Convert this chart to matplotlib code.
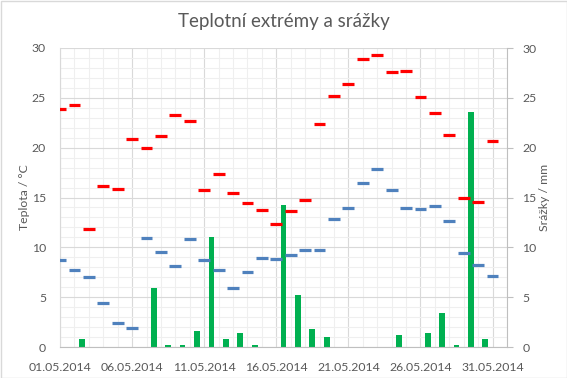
import matplotlib.pyplot as plt
from matplotlib.patches import Rectangle
from matplotlib.ticker import MultipleLocator, FixedLocator

plt.rcParams['font.family'] = ['Lato', 'DejaVu Sans']

# May 2014, one value per day
days = list(range(1, 32))
tmax = [23.9, 24.3, 11.8, 16.2, 15.9, 20.9, 20.0, 21.2, 23.3, 22.7,
        15.8, 17.4, 15.5, 14.4, 13.7, 12.3, 13.6, 14.7, 22.4, 25.2,
        26.4, 28.9, 29.3, 27.6, 27.7, 25.1, 23.5, 21.3, 15.0, 14.5, 20.7]
tmin = [8.7, 7.7, 7.0, 4.4, 2.4, 1.9, 10.9, 9.5, 8.1, 10.8,
        8.7, 7.7, 5.9, 7.5, 8.9, 8.8, 9.2, 9.7, 9.7, 12.8,
        13.9, 16.5, 17.9, 15.8, 13.9, 13.8, 14.1, 12.6, 9.4, 8.2, 7.1]
rain = [0, 0.8, 0, 0, 0, 0, 5.9, 0.2, 0.2, 1.6,
        11.0, 0.8, 1.4, 0.2, 0, 14.2, 5.2, 1.8, 1.0, 0,
        0, 0, 0, 1.2, 0, 1.4, 3.4, 0.2, 23.6, 0.8, 0]
label_days = [1, 6, 11, 16, 21, 26, 31]
date_labels = ["01.05.2014", "06.05.2014", "11.05.2014", "16.05.2014",
               "21.05.2014", "26.05.2014", "31.05.2014"]

text_col = '#595959'
major_col = '#d9d9d9'
minor_col = '#efefef'

fig = plt.figure(figsize=(5.67, 3.78), dpi=100)
ax = fig.add_axes([60 / 567, 31 / 378, 447 / 567, 299 / 378])

# rain columns sit between the day gridlines
ax.bar([d + 0.5 for d in days], rain, width=0.4, color='#00b050', zorder=2)

# temperature extremes drawn as short dashes
ax.hlines(tmax, [d - 0.41 for d in days], [d + 0.41 for d in days],
          color='#ff0000', linewidth=2.3, zorder=3)
ax.hlines(tmin, [d - 0.41 for d in days], [d + 0.41 for d in days],
          color='#4f81bd', linewidth=2.3, zorder=3)

ax.set_xlim(1, 32)
ax.set_ylim(0, 30)
ax.xaxis.set_major_locator(FixedLocator(label_days))
ax.xaxis.set_minor_locator(MultipleLocator(1))
ax.yaxis.set_major_locator(MultipleLocator(5))
ax.yaxis.set_minor_locator(MultipleLocator(1))
ax.set_xticklabels(date_labels)
ax.set_axisbelow(True)
ax.grid(which='minor', color=minor_col, linewidth=0.8, zorder=0)
ax.grid(which='major', color=major_col, linewidth=0.8, zorder=0)
ax.tick_params(which='both', length=0, labelsize=8.8, labelcolor=text_col)
ax.tick_params(axis='x', pad=11)
ax.tick_params(axis='y', pad=10)
for s in ['top', 'right']:
    ax.spines[s].set_visible(False)
ax.spines['left'].set_color(major_col)
ax.spines['bottom'].set_color('#bfbfbf')
ax.set_ylabel('Teplota / °C', color=text_col, fontsize=8.8, labelpad=1)

ax2 = ax.twinx()
ax2.set_ylim(0, 30)
ax2.yaxis.set_major_locator(MultipleLocator(5))
ax2.tick_params(length=4, color='#bfbfbf', labelsize=8.8, labelcolor=text_col, pad=7)
for s in ['top', 'left', 'bottom']:
    ax2.spines[s].set_visible(False)
ax2.spines['right'].set_color('#bfbfbf')
ax2.set_ylabel('Srážky / mm', color=text_col, fontsize=8.8, labelpad=2)

fig.text(0.5, 1 - 22 / 378, 'Teplotní extrémy a srážky', ha='center', va='center',
         fontsize=13.5, color=text_col)

fig.patches.append(Rectangle((0.5 / 567, 0.5 / 378), 1 - 1 / 567, 1 - 1 / 378,
                             transform=fig.transFigure, fill=False,
                             edgecolor='#d9d9d9', linewidth=1))

fig.savefig('out.png', dpi=100)
